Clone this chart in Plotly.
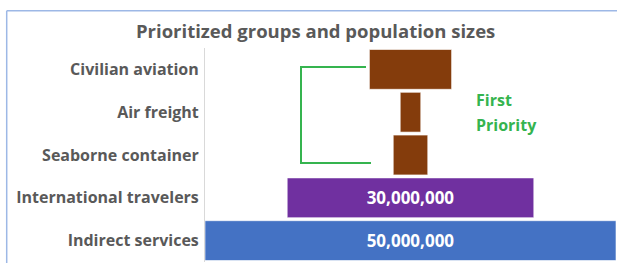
import plotly.graph_objects as go

categories = ["Civilian aviation", "Air freight", "Seaborne container",
              "International travelers", "Indirect services"]
population = [10_000_000, 2_500_000, 4_200_000, 30_000_000, 50_000_000]
bar_labels = ["", "", "", "30,000,000", "50,000,000"]
bar_colors = ["#843c0c", "#843c0c", "#843c0c", "#7030a0", "#4472c4"]

W, H = 617, 263
ML, MR, MT, MB = 205, 1, 48, 1
PW, PH = W - ML - MR, H - MT - MB
FONT = "Open Sans"

def px(x):
    return (x - ML) / PW

def py(y):
    return (H - MB - y) / PH

fig = go.Figure(go.Funnel(
    y=categories,
    x=population,
    text=bar_labels,
    textinfo="text",
    textposition="inside",
    insidetextanchor="middle",
    textfont=dict(family=FONT, size=17, color="white", weight="bold"),
    marker=dict(color=bar_colors, line=dict(color="rgba(255,255,255,0.6)", width=1)),
    connector=dict(visible=False),
    hoverinfo="y+x",
))

green = "#35b44f"
shapes = [
    # bracket
    dict(type="path", xref="paper", yref="paper",
         path=f"M {px(366)} {py(67)} L {px(301)} {py(67)} L {px(301)} {py(163)} L {px(371)} {py(163)}",
         line=dict(color=green, width=2)),
    # chart frame
    dict(type="line", xref="paper", yref="paper", x0=px(6.7), x1=px(620), y0=py(10.7), y1=py(10.7),
         line=dict(color="#9db8e6", width=1.5)),
    dict(type="line", xref="paper", yref="paper", x0=px(6.7), x1=px(6.7), y0=py(10.7), y1=py(270),
         line=dict(color="#9db8e6", width=1.5)),
]

annotations = [
    dict(text="First", xref="paper", yref="paper", x=px(474), y=py(100), xanchor="left",
         yanchor="middle", showarrow=False,
         font=dict(family=FONT, size=16, color=green, weight="bold")),
    dict(text="Priority", xref="paper", yref="paper", x=px(474), y=py(125), xanchor="left",
         yanchor="middle", showarrow=False,
         font=dict(family=FONT, size=16, color=green, weight="bold")),
    dict(text="Prioritized groups and population sizes", xref="paper", yref="paper",
         x=px(315), y=py(31), xanchor="center", yanchor="middle", showarrow=False,
         font=dict(family=FONT, size=18.5, color="#595959", weight="bold")),
]

fig.update_layout(
    width=W, height=H,
    margin=dict(l=ML, r=MR, t=MT, b=MB, pad=0),
    paper_bgcolor="white", plot_bgcolor="white",
    funnelgap=0.07,
    showlegend=False,
    shapes=shapes,
    annotations=annotations,
    xaxis=dict(visible=False, range=[-25_000_000, 25_000_000]),
    yaxis=dict(showline=True, linecolor="#d9d9d9", linewidth=1, ticks="",
               showgrid=False, ticklabelstandoff=2,
               tickfont=dict(family=FONT, size=16, color="#595959", weight="bold")),
)

fig.write_html("out.html", config=dict(displayModeBar=False),
               post_script="document.body.style.margin='0';")
